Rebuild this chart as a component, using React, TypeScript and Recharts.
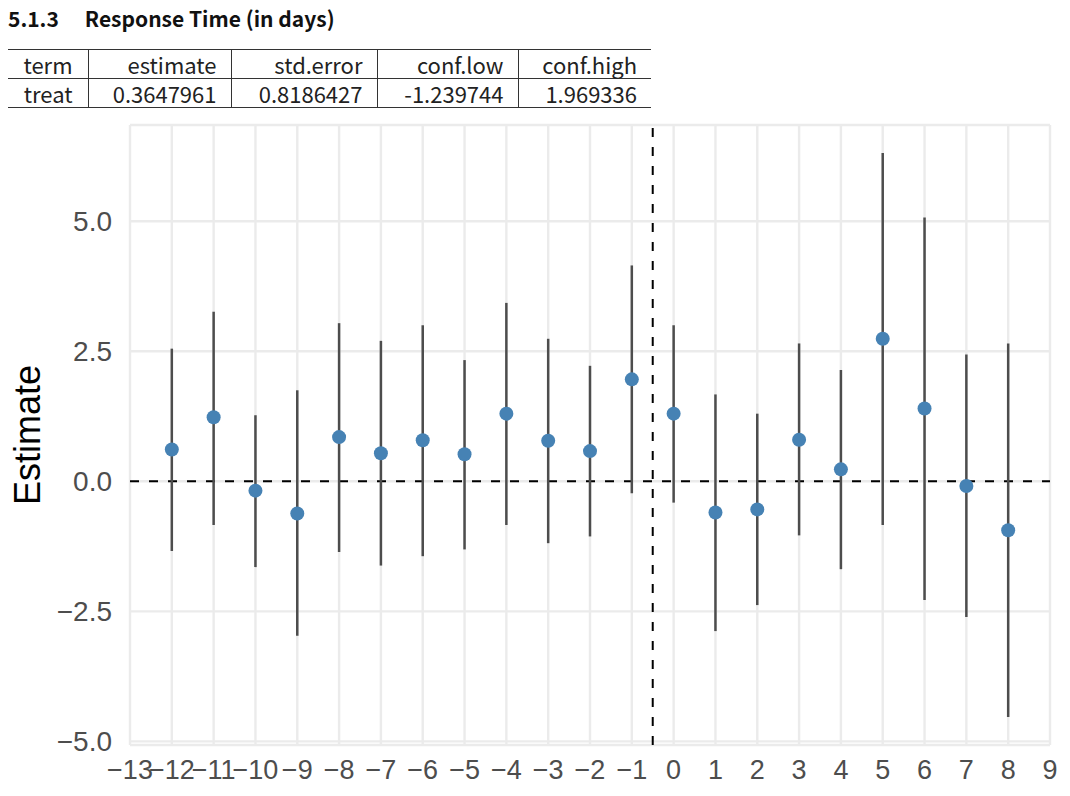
import {
  ComposedChart,
  Scatter,
  ErrorBar,
  XAxis,
  YAxis,
  CartesianGrid,
  ReferenceLine,
} from 'recharts'

// event-study estimates
const periods = [-12, -11, -10, -9, -8, -7, -6, -5, -4, -3, -2, -1, 0, 1, 2, 3, 4, 5, 6, 7, 8]
const estimates = [0.61, 1.23, -0.18, -0.62, 0.85, 0.54, 0.79, 0.52, 1.3, 0.78, 0.58, 1.96, 1.3, -0.6, -0.54, 0.8, 0.23, 2.74, 1.4, -0.09, -0.94]
const confLow = [-1.34, -0.84, -1.65, -2.97, -1.36, -1.62, -1.44, -1.31, -0.84, -1.19, -1.06, -0.23, -0.41, -2.88, -2.38, -1.04, -1.69, -0.84, -2.28, -2.61, -4.53]
const confHigh = [2.55, 3.26, 1.27, 1.75, 3.04, 2.7, 3.0, 2.33, 3.43, 2.74, 2.22, 4.15, 3.0, 1.67, 1.3, 2.65, 2.14, 6.31, 5.07, 2.44, 2.65]

const xTicks = [-13, -12, -11, -10, -9, -8, -7, -6, -5, -4, -3, -2, -1, 0, 1, 2, 3, 4, 5, 6, 7, 8, 9]
const yTicks = [-5, -2.5, 0, 2.5, 5]

const tableHeader = ['term', 'estimate', 'std.error', 'conf.low', 'conf.high']
const tableRow = ['treat', '0.3647961', '0.8186427', '-1.239744', '1.969336']
const colWidths = [80, 143, 146, 141, 133]

const data = periods.map((p, i) => ({
  period: p,
  estimate: estimates[i],
  err: [estimates[i] - confLow[i], confHigh[i] - estimates[i]],
}))

const minus = (s: string) => s.replace('-', '\u2212')

const tableFont = '"Noto Sans CJK KR", "Noto Sans", sans-serif'
const plotFont = '"Liberation Sans", Arial, sans-serif'

function Dot(props: any) {
  const { cx, cy } = props
  if (cx == null || cy == null) return null
  return <circle cx={cx} cy={cy} r={7} fill="#4682B4" />
}

// rotated axis title, centred on the plot panel
function YLabel() {
  return (
    <text
      x={40}
      y={320}
      transform="rotate(-90, 40, 320)"
      textAnchor="middle"
      fontSize={36}
      fontFamily={plotFont}
      fill="#000"
    >
      Estimate
    </text>
  )
}

export default function App() {
  const cell = (i: number): React.CSSProperties => ({
    width: colWidths[i],
    boxSizing: 'border-box',
    textAlign: 'right',
    paddingTop: 0,
    paddingBottom: 0,
    paddingLeft: 0,
    paddingRight: i === 0 ? 15 : 14,
    borderLeft: i === 0 ? 'none' : '1px solid #333',
    height: 28,
    lineHeight: '28px',
    whiteSpace: 'nowrap',
  })

  return (
    <div style={{ position: 'absolute', left: 0, top: 0, width: 1070, height: 796, background: '#fff', overflow: 'hidden' }}>
      <div
        style={{
          position: 'absolute',
          left: 8,
          top: 3,
          fontFamily: tableFont,
          fontWeight: 700,
          fontSize: 21,
          color: '#111',
          whiteSpace: 'nowrap',
        }}
      >
        <span style={{ marginRight: 26 }}>5.1.3</span>
        <span>Response Time (in days)</span>
      </div>

      <table
        style={{
          position: 'absolute',
          left: 8,
          top: 49,
          borderCollapse: 'collapse',
          fontFamily: tableFont,
          fontSize: 22,
          color: '#222',
          borderTop: '1px solid #333',
          borderBottom: '1px solid #333',
        }}
      >
        <tbody>
          <tr style={{ borderBottom: '1px solid #333' }}>
            {tableHeader.map((h, i) => (
              <td key={h} style={cell(i)}>
                {h}
              </td>
            ))}
          </tr>
          <tr>
            {tableRow.map((v, i) => (
              <td key={i} style={cell(i)}>
                {v}
              </td>
            ))}
          </tr>
        </tbody>
      </table>

      <div style={{ position: 'absolute', left: 0, top: 115 }}>
        <ComposedChart
          width={1070}
          height={681}
          data={data}
          margin={{ top: 10, right: 20, bottom: 0, left: 0 }}
        >
          <CartesianGrid stroke="#EBEBEB" strokeWidth={2.4} />
          <XAxis
            type="number"
            dataKey="period"
            domain={[-13, 9]}
            ticks={xTicks}
            interval={0}
            allowDataOverflow
            height={51}
            axisLine={false}
            tickLine={false}
            tickSize={0}
            tickMargin={15}
            tickFormatter={(v: number) => minus(String(v))}
            tick={{ fontSize: 27, fill: '#4D4D4D', fontFamily: plotFont }}
          />
          <YAxis
            type="number"
            domain={[-5.07, 6.85]}
            ticks={yTicks}
            allowDataOverflow
            width={130}
            axisLine={false}
            tickLine={false}
            tickSize={0}
            tickMargin={18}
            tickFormatter={(v: number) => minus(v.toFixed(1))}
            tick={{ fontSize: 28, fill: '#4D4D4D', fontFamily: plotFont }}
            label={{ content: () => <YLabel /> }}
          />
          <ReferenceLine y={0} stroke="#000" strokeWidth={2} strokeDasharray="9 10" />
          <ReferenceLine x={-0.5} stroke="#000" strokeWidth={2} strokeDasharray="9 10" />
          <Scatter dataKey="estimate" shape={<Dot />} isAnimationActive={false}>
            <ErrorBar dataKey="err" direction="y" width={0} stroke="#4D4D4D" strokeWidth={2.5} />
          </Scatter>
        </ComposedChart>
      </div>
    </div>
  )
}
